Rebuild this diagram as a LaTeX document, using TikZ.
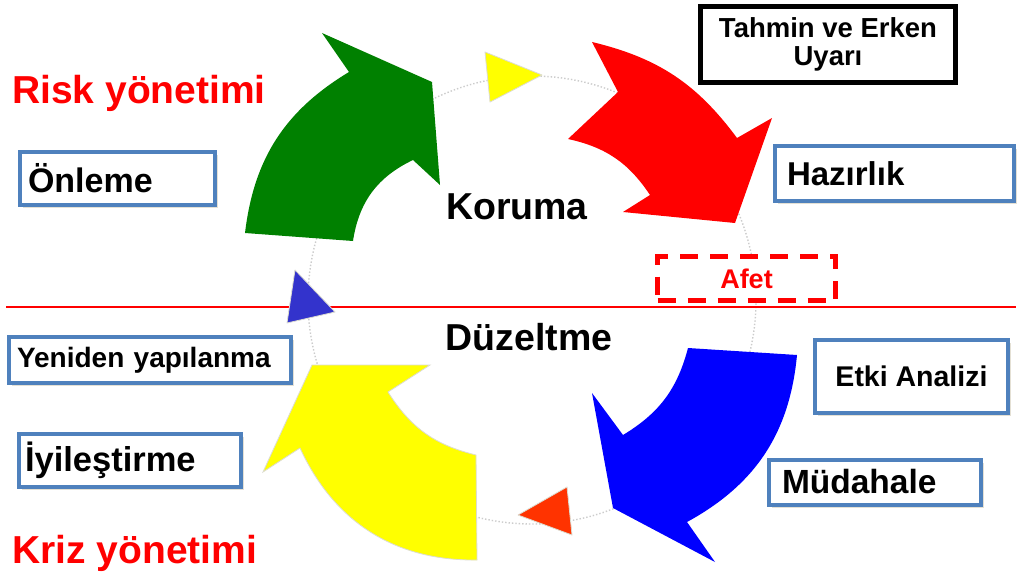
\documentclass[tikz,border=0pt]{standalone}
\usepackage{fontspec}
\setmainfont{Liberation Sans}
\usetikzlibrary{shadows}
\definecolor{boxblue}{HTML}{4F81BD}
\definecolor{agreen}{HTML}{008000}
\definecolor{ared}{HTML}{FF0000}
\definecolor{ablue}{HTML}{0000FF}
\definecolor{ayellow}{HTML}{FFFF00}
\definecolor{torange}{HTML}{FF3300}
\definecolor{tblue}{HTML}{3333CC}
\definecolor{edgegray}{HTML}{DCDCD0}
\definecolor{shadowc}{HTML}{E4E0D4}
\newcommand{\fs}[1]{\bfseries\fontsize{#1}{#1}\selectfont}
\begin{document}
\begin{tikzpicture}[x=1pt,y=-1pt,
  bluebox/.style={draw=boxblue, line width=4pt, fill=white, inner sep=0pt, align=left,
     drop shadow={shadow xshift=2.5pt, shadow yshift=-2.5pt, fill=shadowc, opacity=1}},
  blackbox/.style={draw=black, line width=5pt, fill=white, inner sep=0pt, align=center,
     drop shadow={shadow xshift=2.5pt, shadow yshift=-2.5pt, fill=shadowc, opacity=1}},
  redtext/.style={text=ared, inner sep=0pt, font=\fs{39}},
  bigtext/.style={text=black, inner sep=0pt, font=\fs{37.5}},
  tri/.style={draw=edgegray, line width=0.8pt, line join=round}
]
\useasboundingbox (0,0) rectangle (1019,578);
\fill[white] (0,0) rectangle (1019,578);

% dotted cycle
\draw[gray!40, line width=1.4pt, dotted] (532,300) circle[radius=224];

% horizontal divider
\draw[ared, line width=1.4pt] (6,307) -- (1016,307);

% curved arrows
\fill[agreen] (353,241) to[bend left=28] (413,160) -- (440,185) -- (432,82) -- (322,33) -- (349,72)
   to[bend right=26] (245,233) -- cycle;
\fill[ared] (592,42) to[bend left=20] (737,138) -- (772,118) -- (735,223) -- (623,212) -- (650,195)
   to[bend right=22] (568,139) -- (618,92) -- cycle;
\fill[ablue] (688,348) to[bend left=22] (623,435) -- (592,393) -- (613,508) -- (715,562) -- (687,522)
   to[bend right=28] (797,355) -- cycle;
\filldraw[fill=ayellow, draw=edgegray, line width=0.8pt] (476,455) to[bend left=22] (388,392) -- (430,365) -- (312,365) -- (263,472) -- (300,448)
   to[bend right=33] (477,560) -- cycle;

% small triangles
\filldraw[tri, fill=ayellow] (485,52) -- (542,75) -- (490,102) -- cycle;
\filldraw[tri, fill=torange] (567,487) -- (518,515) -- (572,535) -- cycle;
\filldraw[tri, fill=tblue] (295,270) -- (335,312) -- (287,323) -- cycle;

% titles
\node[redtext, anchor=base west] (risk) at (12,103) {Risk yönetimi};
\node[redtext, anchor=base west] (kriz) at (12,563) {Kriz yönetimi};
\node[bigtext, anchor=base] (koruma) at (517,219) {Koruma};
\node[bigtext, anchor=base] (duzeltme) at (529,350) {Düzeltme};

% boxes
\node[blackbox, minimum width=255, minimum height=76, font=\fs{27.5}] (tahmin) at (828,44.5)
  {\fontsize{27.5}{30}\selectfont Tahmin ve Erken\\Uyarı};
\node[bluebox, minimum width=239, minimum height=55, text width=215, font=\fs{33}] (hazirlik) at (894.5,173.5) {Hazırlık};
\node[bluebox, minimum width=195, minimum height=53, text width=179, font=\fs{34}] (onleme) at (117.5,178.5) {Önleme};
\node[bluebox, minimum width=193, minimum height=73, align=center, font=\fs{28.5}] (etki) at (911.5,376.5) {Etki Analizi};
\node[bluebox, minimum width=212, minimum height=45, text width=186, font=\fs{33.5}] (mudahale) at (875,482.5) {\raisebox{2pt}{Müdahale}};
\node[bluebox, minimum width=282, minimum height=46, text width=266, font=\fs{28}] (yeniden) at (150,360) {\raisebox{2pt}{Yeniden yapılanma}};
\node[bluebox, minimum width=222, minimum height=53, text width=210, font=\fs{34.5}] (iyilestirme) at (130,460.5) {İyileştirme};

% Afet
\node[draw=ared, line width=5pt, dash pattern=on 18pt off 12pt, fill=white, minimum width=178, minimum height=44,
      inner sep=0pt, text=ared, font=\fs{27}] (afet) at (746.5,278.5) {Afet};
\end{tikzpicture}
\end{document}
